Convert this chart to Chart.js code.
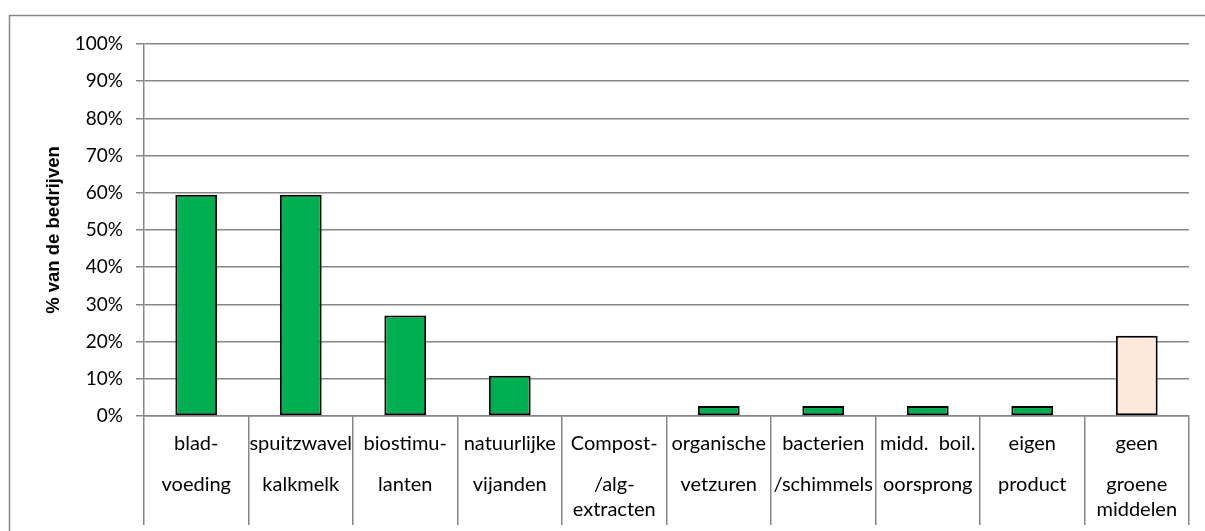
<!DOCTYPE html>
<html>
<head>
<meta charset="utf-8">
<script src="https://cdn.jsdelivr.net/npm/chart.js@4/dist/chart.umd.min.js"></script>
<style>
  html, body { margin:0; padding:0; background:#fff; }
  #wrap { width:1205px; height:531px; position:relative; }
</style>
</head>
<body>
<div id="wrap"><canvas id="chart" width="1205" height="531"></canvas></div>
<script>
// categories (lines as shown under each bar)
const categories = [
  ['blad-', 'voeding'],
  ['spuitzwavel', 'kalkmelk'],
  ['biostimu-', 'lanten'],
  ['natuurlijke', 'vijanden'],
  ['Compost-', '/alg-', 'extracten'],
  ['organische', 'vetzuren'],
  ['bacterien', '/schimmels'],
  ['midd.  boil.', 'oorsprong'],
  ['eigen', 'product'],
  ['geen', 'groene', 'middelen']
];
// % van de bedrijven
const values = [59.5, 59.5, 27.0, 10.8, 0, 2.7, 2.7, 2.7, 2.7, 21.6];
const yTicks = [0, 10, 20, 30, 40, 50, 60, 70, 80, 90, 100];
const yTitle = '% van de bedrijven';

const GRID = '#868686';
const labelFont = '20px Lato';
const barColors = values.map((v, i) => i === values.length - 1 ? '#FDE9D9' : '#00B050');

// frame around the whole chart + category labels below the axis
const excelLook = {
  id: 'excelLook',
  beforeDraw(chart) {
    const c = chart.ctx;
    c.save();
    c.strokeStyle = GRID;
    c.lineWidth = 1.5;
    c.strokeRect(9.5, 15.5, 1400, 700);
    c.restore();
  },
  afterDraw(chart) {
    const c = chart.ctx, x = chart.scales.x;
    const lineY = [444, 485, 510];
    c.save();
    c.font = labelFont;
    c.fillStyle = '#000';
    c.textAlign = 'center';
    c.textBaseline = 'middle';
    categories.forEach((lines, i) => {
      const px = x.getPixelForValue(i);
      lines.forEach((t, j) => c.fillText(t, px, lineY[j]));
    });
    c.restore();
  }
};

new Chart(document.getElementById('chart').getContext('2d'), {
  type: 'bar',
  data: {
    labels: categories.map(l => l.join(' ')),
    datasets: [{
      data: values,
      backgroundColor: barColors,
      borderColor: '#000',
      borderWidth: 2,
      borderSkipped: false,
      barPercentage: 0.4,
      categoryPercentage: 1.0
    }]
  },
  options: {
    responsive: false,
    animation: false,
    layout: { padding: { left: 0, top: 44, right: 16, bottom: 0 } },
    plugins: { legend: { display: false }, tooltip: { enabled: false } },
    scales: {
      x: {
        ticks: { display: false },
        grid: { color: GRID, lineWidth: 1.5, drawOnChartArea: false, tickLength: 109, offset: true },
        border: { color: GRID, width: 1.5 },
        afterFit: s => { s.height = 115; }
      },
      y: {
        min: 0, max: 100,
        afterBuildTicks: s => { s.ticks = yTicks.map(v => ({ value: v })); },
        ticks: {
          padding: 13,
          color: '#000',
          font: { family: 'Lato', size: 19 },
          callback: v => v + '%'
        },
        grid: { color: GRID, lineWidth: 1.5, tickLength: 8 },
        border: { color: GRID, width: 1.5 },
        title: {
          display: true,
          text: yTitle,
          color: '#000',
          font: { family: 'Liberation Sans', size: 18.5, weight: 'bold' },
          padding: { top: 43, bottom: 0 }
        },
        afterFit: s => { s.width = 144; }
      }
    }
  },
  plugins: [excelLook]
});
</script>
</body>
</html>
